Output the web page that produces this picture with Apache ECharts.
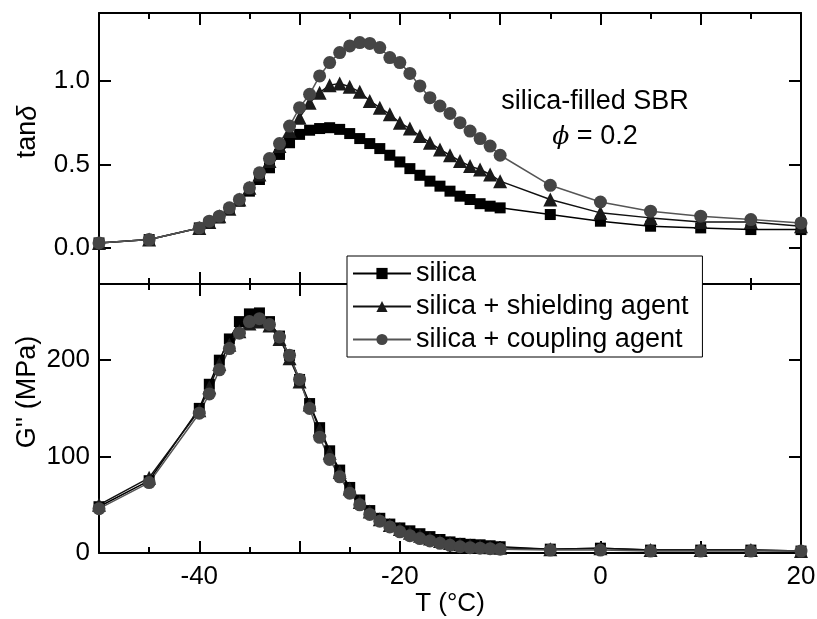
<!DOCTYPE html>
<html>
<head>
<meta charset="utf-8">
<script src="https://cdn.jsdelivr.net/npm/echarts@6/dist/echarts.min.js"></script>
<style>
  html, body { margin: 0; padding: 0; background: #fff; }
  #chart { width: 817px; height: 619px; }
</style>
</head>
<body>
<div id="chart"></div>
<script>
// temperatures (°C)
const temps = [-50, -45, -40,
  -39, -38, -37, -36, -35, -34, -33, -32, -31, -30,
  -29, -28, -27, -26, -25, -24, -23, -22, -21, -20,
  -19, -18, -17, -16, -15, -14, -13, -12, -11, -10,
  -5, 0, 5, 10, 15, 20];

// tan delta
const tanSilica = [0.03, 0.05, 0.12,
  0.15, 0.18, 0.23, 0.28, 0.34, 0.41, 0.48, 0.56, 0.63, 0.68,
  0.705, 0.715, 0.72, 0.71, 0.685, 0.655, 0.625, 0.595, 0.555, 0.515,
  0.475, 0.435, 0.40, 0.37, 0.34, 0.31, 0.29, 0.265, 0.25, 0.24,
  0.20, 0.16, 0.13, 0.12, 0.11, 0.11];
const tanShield = [0.03, 0.05, 0.12,
  0.155, 0.19, 0.235, 0.29, 0.36, 0.44, 0.52, 0.61, 0.70, 0.78,
  0.87, 0.93, 0.975, 0.985, 0.965, 0.935, 0.88, 0.84, 0.80, 0.75,
  0.715, 0.67, 0.63, 0.59, 0.555, 0.52, 0.49, 0.47, 0.44, 0.40,
  0.29, 0.21, 0.18, 0.155, 0.155, 0.13];
const tanCoupling = [0.03, 0.05, 0.12,
  0.16, 0.19, 0.24, 0.29, 0.36, 0.45, 0.535, 0.625, 0.73, 0.84,
  0.92, 1.03, 1.11, 1.17, 1.21, 1.23, 1.225, 1.20, 1.14, 1.11,
  1.045, 0.97, 0.90, 0.85, 0.805, 0.75, 0.70, 0.655, 0.61, 0.555,
  0.375, 0.275, 0.22, 0.19, 0.17, 0.15];

// G'' (MPa)
const gSilica = [48, 75, 150,
  175, 200, 222, 240, 248, 249, 240, 225, 205, 180,
  155, 130, 106, 86, 68, 55, 44, 36, 30, 26,
  23, 20, 17, 14, 11.5, 10, 9, 8.5, 7.5, 6.5,
  4, 5, 3, 3, 3, 2];
const gShield = [50, 78, 148,
  172, 196, 216, 230, 238, 240, 236, 222, 202, 178,
  154, 128, 104, 84, 67, 53, 43, 35, 29, 25,
  21, 18, 15, 12.5, 10.5, 9, 8, 7, 6, 5.5,
  4, 5, 3, 3, 3, 2];
const gCoupling = [46, 73, 145,
  165, 190, 212, 228, 240, 243, 237, 224, 205, 180,
  150, 120, 97, 79, 62, 50, 40, 33, 27, 22,
  18, 15, 12.5, 10, 8, 6.5, 5.5, 5, 4.5, 4,
  3, 3, 2, 2, 2, 2];

const names = ['silica', 'silica + shielding agent', 'silica + coupling agent'];
const symbols = ['rect', 'triangle', 'circle'];
const symSizes = [11, 14, 13];
const colors = ['#000000', '#1a1a1a', '#454545'];
const lineColors = ['#000000', '#111111', '#555555'];

const FONT = 'Liberation Sans';

function pairs(vals) {
  return temps.map((t, i) => [t, vals[i]]);
}

// x axes: bottom one of lower panel carries labels and the title
function xAxisCfg(grid, pos, withLabels) {
  return {
    type: 'value', gridIndex: grid, position: pos,
    min: -50, max: 20, interval: 10,
    axisLine: { show: true, onZero: false, lineStyle: { color: '#000', width: 2 } },
    axisTick: { show: true, inside: true, length: 12, lineStyle: { color: '#000', width: 2 } },
    minorTick: { show: true, splitNumber: 2, length: 6, lineStyle: { color: '#000', width: 2 } },
    splitLine: { show: false },
    axisLabel: {
      show: withLabels, margin: 11, fontFamily: FONT, fontSize: 26, color: '#000',
      formatter: v => (v % 20 === 0 ? String(v) : '')
    },
    name: withLabels ? 'T (°C)' : '',
    nameLocation: 'middle', nameGap: 34,
    nameTextStyle: { fontFamily: FONT, fontSize: 26, color: '#000' }
  };
}

function yAxisCfg(grid, pos, min, max, extra, withLabels, fmt, showMin) {
  return Object.assign({
    type: 'value', gridIndex: grid, position: pos, min: min, max: max,
    axisLine: { show: true, onZero: false, lineStyle: { color: '#000', width: 2 } },
    axisTick: { show: true, inside: true, length: 12, lineStyle: { color: '#000', width: 2 } },
    splitLine: { show: false },
    axisLabel: withLabels ? {
      show: true, margin: 9, fontFamily: FONT, fontSize: 26, color: '#000',
      showMinLabel: showMin, showMaxLabel: false, formatter: fmt
    } : { show: false }
  }, extra);
}

const series = [];
[tanSilica, tanShield, tanCoupling].forEach((d, i) => {
  series.push({
    name: names[i], type: 'line', xAxisIndex: 0, yAxisIndex: 0,
    data: pairs(d), symbol: symbols[i], symbolSize: symSizes[i],
    itemStyle: { color: colors[i] },
    lineStyle: { color: lineColors[i], width: 1.5 }
  });
});
[gSilica, gShield, gCoupling].forEach((d, i) => {
  series.push({
    name: names[i], type: 'line', xAxisIndex: 2, yAxisIndex: 2,
    data: pairs(d), symbol: symbols[i], symbolSize: symSizes[i],
    itemStyle: { color: colors[i] },
    lineStyle: { color: lineColors[i], width: 1.5 }
  });
});

const option = {
  animation: false,
  grid: [
    { left: 99, right: 16, top: 13, height: 271, containLabel: false, outerBoundsMode: 'none' },
    { left: 99, right: 16, top: 284, height: 269, containLabel: false, outerBoundsMode: 'none' }
  ],
  xAxis: [
    xAxisCfg(0, 'bottom', false),
    xAxisCfg(0, 'top', false),
    xAxisCfg(1, 'bottom', true),
    xAxisCfg(1, 'top', false)
  ],
  yAxis: [
    yAxisCfg(0, 'left', -0.216, 1.407, { splitNumber: 3 }, true, v => v.toFixed(1), false),
    yAxisCfg(0, 'right', -0.216, 1.407, { splitNumber: 3 }, false),
    yAxisCfg(1, 'left', 0, 279, { interval: 100 }, true, v => String(v), true),
    yAxisCfg(1, 'right', 0, 279, { interval: 100 }, false)
  ],
  legend: {
    data: names,
    orient: 'vertical',
    left: 347, top: 256,
    padding: [4, 14, 4, 5],
    itemGap: 6,
    itemWidth: 58, itemHeight: 14,
    backgroundColor: '#fff',
    borderColor: '#000', borderWidth: 1,
    textStyle: { fontFamily: FONT, fontSize: 27, color: '#000', lineHeight: 27 },
    z: 10
  },
  graphic: [
    {
      type: 'text', x: 28, y: 132, rotation: Math.PI / 2,
      style: {
        text: '{a|tan}{b|δ}', align: 'center', verticalAlign: 'middle',
        rich: {
          a: { fontFamily: FONT, fontSize: 27, fill: '#000' },
          b: { fontFamily: FONT, fontSize: 27, fontStyle: 'italic', fill: '#000' }
        }
      }
    },
    {
      type: 'text', x: 28, y: 392, rotation: Math.PI / 2,
      style: {
        text: "G'' (MPa)", align: 'center', verticalAlign: 'middle',
        fontFamily: FONT, fontSize: 27, fill: '#000'
      }
    },
    {
      type: 'text', x: 595, y: 102,
      style: {
        text: 'silica-filled SBR', align: 'center', verticalAlign: 'middle',
        fontFamily: FONT, fontSize: 27, fill: '#000'
      }
    },
    {
      type: 'text', x: 595, y: 137,
      style: {
        text: '{i|ϕ}{n| = 0.2}', align: 'center', verticalAlign: 'middle',
        rich: {
          i: { fontFamily: 'DejaVu Serif', fontSize: 25, fontStyle: 'italic', fill: '#000' },
          n: { fontFamily: FONT, fontSize: 27, fill: '#000' }
        }
      }
    }
  ],
  series: series
};

const chart = echarts.init(document.getElementById('chart'));
chart.setOption(option);
</script>
</body>
</html>
